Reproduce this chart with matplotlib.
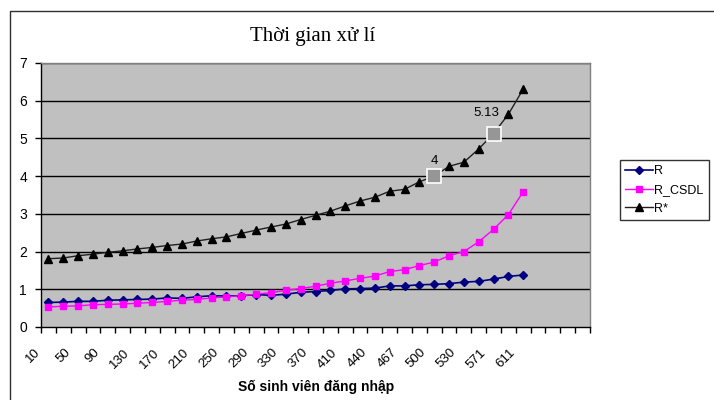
import matplotlib
matplotlib.use('Agg')
import matplotlib.pyplot as plt
import matplotlib.transforms as mtransforms
from matplotlib.lines import Line2D
import numpy as np

# số sinh viên đăng nhập (trục x)
so_sv = [10, 30, 50, 70, 90, 110, 130, 150, 170, 190, 210, 230, 250, 270, 290,
         310, 330, 350, 370, 390, 410, 425, 440, 453, 467, 483, 500, 515, 530,
         550, 571, 590, 611]

# thời gian xử lí
r = [0.65, 0.66, 0.68, 0.68, 0.71, 0.72, 0.73, 0.74, 0.77, 0.76, 0.80, 0.83,
     0.82, 0.83, 0.86, 0.84, 0.87, 0.92, 0.94, 0.97, 1.01, 1.02, 1.03, 1.09,
     1.09, 1.12, 1.13, 1.15, 1.19, 1.21, 1.27, 1.34, 1.38]
r_csdl = [0.53, 0.55, 0.56, 0.59, 0.60, 0.61, 0.63, 0.65, 0.68, 0.71, 0.73,
          0.77, 0.80, 0.83, 0.87, 0.91, 0.97, 1.02, 1.08, 1.16, 1.22, 1.29,
          1.35, 1.47, 1.52, 1.63, 1.72, 1.89, 2.00, 2.26, 2.59, 2.98, 3.59]
r_star = [1.81, 1.83, 1.89, 1.93, 1.98, 2.02, 2.07, 2.11, 2.16, 2.20, 2.28,
          2.34, 2.39, 2.48, 2.57, 2.65, 2.73, 2.85, 2.96, 3.07, 3.21, 3.34,
          3.44, 3.60, 3.65, 3.85, 4.00, 4.26, 4.37, 4.72, 5.13, 5.64, 6.31]

# các điểm được đánh dấu trên đường R*
diem_nhan = [26, 30]
nhan = ['4', '5.13']

n_cat = 37  # số ô trên trục x (kể cả ô trống cuối)

plt.rcParams['font.family'] = ['Liberation Sans', 'DejaVu Sans']

fig = plt.figure(figsize=(7.14, 4.0), dpi=100)
W, H = 714, 400
ax = fig.add_axes([41 / W, 1 - 327 / H, (590 - 41) / W, (327 - 63) / H])
ax.set_facecolor('#C0C0C0')

x = np.arange(len(so_sv))

# lưới ngang
for yv in range(1, 8):
    ax.axhline(yv, color='black', lw=1.0, zorder=1)

ax.plot(x, r, color='#000080', lw=1.2, marker='D', ms=4.2,
        mfc='#000080', mec='#000080', label='R', zorder=3)
ax.plot(x, r_csdl, color='#FF00FF', lw=1.0, marker='s', ms=5,
        mfc='#FF00FF', mec='#FF00FF', label='R_CSDL', zorder=3)
ax.plot(x, r_star, color='#202020', lw=1.0, marker='^', ms=5.5,
        mfc='black', mec='black', label='R*', zorder=3)

# điểm nhấn + nhãn giá trị
hx = [x[i] for i in diem_nhan]
hy = [r_star[i] for i in diem_nhan]
ax.plot(hx, hy, ls='none', marker='s', ms=10, mfc='#969696', mec='white',
        mew=1.2, zorder=4)
offsets = [(0, 11), (-5, 14.5)]
for xi, yi, t, off in zip(hx, hy, nhan, offsets):
    ax.annotate(t, (xi, yi), xytext=off, textcoords='offset points',
                ha='center', va='center', fontsize=9.5, zorder=5)

ax.set_xlim(-0.5, n_cat - 0.5)
ax.set_ylim(0, 7)

# trục y
ax.set_yticks(range(0, 8))
ax.tick_params(axis='y', direction='out', length=4, width=1, pad=6,
               labelsize=10)

# trục x: vạch ở ranh giới ô, nhãn cách một ô
ax.set_xticks(np.arange(-0.5, n_cat, 1.0), minor=True)
ax.set_xticks(x[::2])
ax.set_xticklabels([str(v) for v in so_sv[::2]], rotation=45,
                   ha='right', va='top', fontsize=9.5)
ax.tick_params(axis='x', which='major', length=0, pad=14)
ax.tick_params(axis='x', which='minor', direction='out', length=4, width=1)
shift = mtransforms.ScaledTranslation(-4 / 72, 0, fig.dpi_scale_trans)
for lbl in ax.get_xticklabels():
    lbl.set_transform(lbl.get_transform() + shift)

for side in ['left', 'bottom']:
    ax.spines[side].set_color('black')
    ax.spines[side].set_linewidth(1.0)
for side in ['top', 'right']:
    ax.spines[side].set_color('#808080')
    ax.spines[side].set_linewidth(1.0)

# tiêu đề và nhãn trục
fig.text(313 / W, 1 - 36 / H, 'Thời gian xử lí', ha='center', va='center',
         fontsize=15, family=['Liberation Serif', 'DejaVu Serif'])
fig.text(316 / W, 1 - 387 / H, 'Số sinh viên đăng nhập', ha='center',
         va='center', fontsize=10, fontweight='bold')

leg = fig.legend(loc='upper left', bbox_to_anchor=(620 / W, 1 - 160 / H),
                 fontsize=9, frameon=True, fancybox=False, handlelength=2.2,
                 handletextpad=0.15, borderpad=0.4, labelspacing=0.55,
                 borderaxespad=0, handleheight=0.7)
leg.get_frame().set_edgecolor('black')
leg.get_frame().set_linewidth(1.0)

# khung ngoài biểu đồ
fig.add_artist(Line2D([10 / W, 10 / W, 1.0], [0.0, 1 - 11 / H, 1 - 11 / H],
                      transform=fig.transFigure, color='#303030', lw=1.0))

fig.savefig('out.png', dpi=100)
